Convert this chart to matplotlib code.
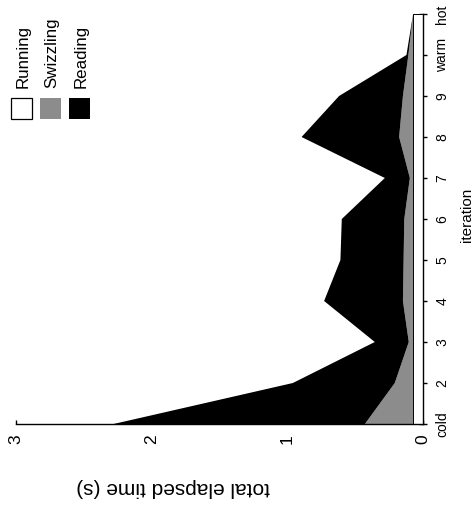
import matplotlib
matplotlib.use("Agg")
import matplotlib.pyplot as plt
import numpy as np
from matplotlib.patches import Rectangle

plt.rcParams['font.family'] = ['Liberation Sans', 'DejaVu Sans']

# Iterations (cold start, repeated runs, warm and hot caches)
iter_labels = ['cold', '2', '3', '4', '5', '6', '7', '8', '9', 'warm', 'hot']
iter_pos = np.arange(1, len(iter_labels) + 1)

# Elapsed time per phase, seconds
running = [0.075, 0.075, 0.075, 0.075, 0.075, 0.075, 0.075, 0.075, 0.075, 0.075, 0.075]
swizzling = [0.355, 0.135, 0.032, 0.075, 0.070, 0.065, 0.024, 0.103, 0.075, 0.035, 0.0]
reading = [1.85, 0.75, 0.25, 0.58, 0.465, 0.46, 0.184, 0.718, 0.47, 0.014, 0.0]

time_ticks = [0, 1, 2, 3]

W, H = 476, 508
fig = plt.figure(figsize=(W / 100, H / 100), dpi=100)

ax_l, ax_r, ax_t, ax_b = 15.7, 423.3, 14.0, 424.0
ax = fig.add_axes([ax_l / W, (H - ax_b) / H, (ax_r - ax_l) / W, (ax_b - ax_t) / H])

grey = '#8c8c8c'
r = np.array(running)
s = r + np.array(swizzling)
t = s + np.array(reading)

ax.fill_betweenx(iter_pos, 0, r, facecolor='white', edgecolor='black', linewidth=0.7, zorder=3)
ax.fill_betweenx(iter_pos, r, s, facecolor=grey, edgecolor='none', linewidth=0, zorder=2)
ax.fill_betweenx(iter_pos, s, t, facecolor='black', edgecolor='none', linewidth=0, zorder=2)

ax.set_xlim(3, 0)
ax.set_ylim(iter_pos[0], iter_pos[-1])

for side in ('top', 'left'):
    ax.spines[side].set_visible(False)
for side in ('bottom', 'right'):
    ax.spines[side].set_linewidth(1.0)
    ax.spines[side].set_zorder(4)

ax.set_xticks(time_ticks)
ax.set_xticklabels([str(v) for v in time_ticks], rotation=90, fontsize=12.5)
ax.tick_params(axis='x', direction='in', length=3, width=1.0, pad=7.5)

ax.yaxis.tick_right()
ax.set_yticks(iter_pos)
ax.set_yticklabels(iter_labels, rotation=90, fontsize=10, va='center')
ax.tick_params(axis='y', direction='inout', length=6.2, width=1.0, pad=5.5)

# Axis titles
fig.text(467.5 / W, (H - 214.5) / H, 'iteration', rotation=90,
         ha='center', va='center', fontsize=11)
fig.text(172.8 / W, (H - 488) / H, 'total elapsed time (s)', rotation=180,
         ha='center', va='center', fontsize=15)

# Legend
legend_items = [('Running', 'white', 10.7), ('Swizzling', grey, 39.5), ('Reading', 'black', 68.5)]
box = 21.3
box_top = 98.0
for name, color, x0 in legend_items:
    fig.add_artist(Rectangle((x0 / W, (H - box_top - box) / H), box / W, box / H,
                             transform=fig.transFigure, facecolor=color,
                             edgecolor='black', linewidth=0.9 if color == 'white' else 0))
    fig.text((x0 + box / 2 + 1.5) / W, (H - 88.5) / H, name, rotation=90,
             ha='center', va='bottom', fontsize=12.2)

fig.savefig('out.png', dpi=100)
